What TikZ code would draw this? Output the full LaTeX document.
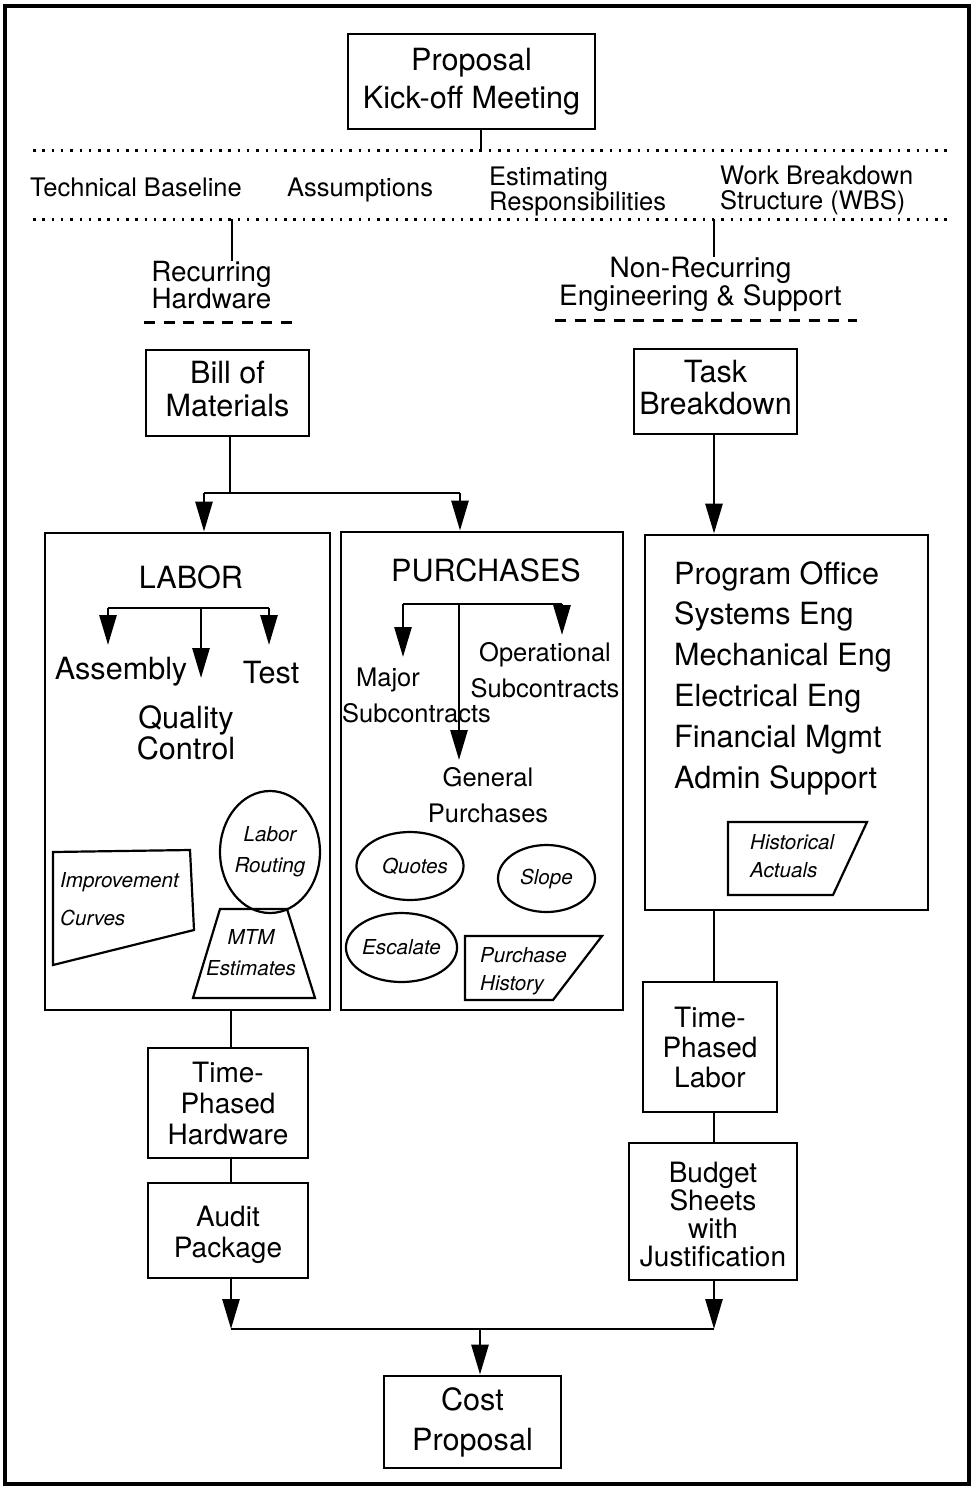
\documentclass[tikz,border=0pt]{standalone}
\usepackage{fontspec}
\setmainfont{TeX Gyre Heros}
\usetikzlibrary{arrows.meta,shapes.geometric}

\newcommand\setfs[2]{\fontsize{#1}{#2}\selectfont}
% extra depth / height used to nudge a box label up or down
\newcommand\lowstrut[1]{\rule[-#1]{0pt}{#1}}
\newcommand\highstrut[1]{\rule{0pt}{#1}}

\tikzset{
  box/.style={draw, line width=2.8pt, inner sep=0pt, align=center},
  lbl/.style={inner sep=0pt, align=center},
  conn/.style={line width=2.8pt},
  arr/.style={conn, -{Triangle[length=30pt,width=17pt]}},
  dotrule/.style={line width=3pt, dash pattern=on 2.5pt off 6.8pt},
  dashrule/.style={line width=3pt, dash pattern=on 11pt off 8.5pt},
  shapeline/.style={line width=2.2pt},
  oval/.style={ellipse, draw, line width=2.2pt, inner sep=0pt, align=center},
  big/.style={font={\setfs{30.6}{38}}},
  small/.style={font={\setfs{25.5}{25}}},
  ital/.style={font={\setfs{20.6}{28}\itshape}}
}

\begin{document}
\begin{tikzpicture}[x=1pt,y=-1pt]
\useasboundingbox (0,0) rectangle (973,1490);
\draw[line width=3.5pt] (5,6) rectangle (969,1484);

% ---- kick-off and proposal ground rules
\node[box, big, minimum width=247pt, minimum height=95pt] (prop) at (471.5,81.5) {Proposal\\Kick-off Meeting};
\draw[dotrule] (33,151) -- (951,151);
\draw[dotrule] (33,219) -- (951,219);
\coordinate (k) at (481,151);
\draw[conn] (k |- prop.south) -- (k);

\node[lbl, small] (tb) at (136,187) {Technical Baseline};
\node[lbl, small] (asn) at (360,189.5) {Assumptions};
\node[lbl, small, align=left, anchor=west] (est) at (489,191) {Estimating\\Responsibilities};
\node[lbl, small, align=left, anchor=west] (wbs) at (720,190.5) {Work Breakdown\\Structure (WBS)};

% ---- the two cost streams
\coordinate (rL) at (232,219);
\coordinate (rR) at (714,219);
\node[lbl, font={\setfs{27.8}{27}}] (rec) at (211.5,285) {Recurring\\Hardware};
\node[lbl, font={\setfs{28}{23.5}}] (nrec) at (700.5,284) {Non-Recurring\\Engineering \& Support};
\draw[conn] (rL) -- (rL |- rec.north);
\draw[conn] (rR) -- (rR |- nrec.north);
\draw[dashrule] (144,322) -- (296,322);
\draw[dashrule] (555,320) -- (857,320);

\node[box, font={\setfs{30.6}{33}}, minimum width=163pt, minimum height=86pt] (bom) at (227.5,393) {Bill of\\Materials\lowstrut{8pt}};
\node[box, font={\setfs{30.6}{32}}, minimum width=163pt, minimum height=85pt] (task) at (715.5,391.5) {Task\\Breakdown\lowstrut{8pt}};

\node[box, minimum width=285pt, minimum height=477pt] (labor) at (187.5,771.5) {};
\node[box, minimum width=282pt, minimum height=478pt] (purch) at (482,771) {};
\node[box, minimum width=283pt, minimum height=375pt] (staff) at (786.5,722.5) {};

\coordinate (bs) at (230,493);
\coordinate (bl) at (204,493);
\coordinate (br) at (460,493);
\draw[conn] (bs |- bom.south) -- (bs);
\draw[conn] (bl) -- (br);
\draw[arr] (bl) -- (bl |- labor.north);
\draw[arr] (br) -- (br |- purch.north);
\coordinate (tx) at (714,0);
\draw[arr] (tx |- task.south) -- (tx |- staff.north);

% ---- labor
\node[lbl, big] (laborT) at (191,577) {LABOR};
\node[lbl, big] (assy) at (121,672) {Assembly};
\node[lbl, big] (test) at (271,673) {Test};
\node[lbl, font={\setfs{30.6}{29}}] (qc) at (186,733) {Quality\\Control};
\coordinate (lbL) at (108,608);
\coordinate (lbM) at (201,608);
\coordinate (lbR) at (269,608);
\coordinate (lbLt) at (108,645);
\coordinate (lbMt) at (201,678);
\coordinate (lbRt) at (269,645);
\draw[conn] (lbL) -- (lbR);
\draw[arr] (lbL) -- (lbLt);
\draw[arr] (lbM) -- (lbMt);
\draw[arr] (lbR) -- (lbRt);

\node[oval, font={\setfs{20.6}{31}\itshape}, minimum width=96pt, minimum height=122pt] (route) at (270,852) {Labor\\Routing};
\draw[shapeline] (220,909) -- (287,909) -- (315,998) -- (193,998) -- cycle;
\node[lbl, font={\setfs{20.6}{31}\itshape}] (mtm) at (251,952.5) {MTM\\Estimates};
\draw[shapeline] (53,852) -- (190,850) -- (194,930) -- (53,965) -- cycle;
\node[lbl, font={\setfs{20.6}{38}\itshape}, align=left, anchor=west] (impr) at (60,899) {Improvement\\Curves};

% ---- purchases
\node[lbl, big] (purT) at (486,570) {PURCHASES};
\coordinate (pL) at (403,604);
\coordinate (pM) at (459,604);
\coordinate (pR) at (562,604);
\coordinate (pLt) at (403,657);
\coordinate (pMt) at (459,760);
\coordinate (pRt) at (562,635);
\node[lbl, small] (maj) at (388,679.5) {Major};
\node[lbl, small] (majsub) at (416.5,713) {Subcontracts};
\node[lbl, font={\setfs{25.5}{36}}] (ops) at (545,670) {Operational\\Subcontracts};
\node[lbl, font={\setfs{25.5}{36}}] (gen) at (488,795) {General\\Purchases};
\draw[conn] (pL) -- (pR);
\draw[arr] (pL) -- (pLt);
\draw[arr] (pM) -- (pMt);
\draw[arr] (pR) -- (pRt);

\node[oval, ital, minimum width=96pt, minimum height=68pt] (quotes) at (410,866) {\hspace*{10pt}Quotes};
\node[oval, ital, minimum width=97pt, minimum height=67pt] (slope) at (546.5,878.5) {Slope};
\node[oval, ital, minimum width=97pt, minimum height=69pt] (escal) at (401.5,947.5) {Escalate};
\draw[shapeline] (465,936) -- (602,936) -- (553,1000) -- (465,1000) -- cycle;
\node[lbl, ital, align=left, anchor=west] (phist) at (480,971) {Purchase\\History};

% ---- engineering and support staff
\node[lbl, font={\setfs{30.6}{40.8}}, align=left, anchor=west] (roles) at (674,678)
  {Program Office\\Systems Eng\\Mechanical Eng\\Electrical Eng\\Financial Mgmt\\Admin Support};
\draw[shapeline] (728,822) -- (867,822) -- (833,895) -- (728,895) -- cycle;
\node[lbl, ital, align=left, anchor=west] (hist) at (750,856) {Historical\\Actuals};

% ---- outputs
\node[box, font={\setfs{28}{31}}, minimum width=160pt, minimum height=110pt] (tph) at (228,1103) {Time-\\Phased\\Hardware};
\node[box, font={\setfs{28}{31}}, minimum width=160pt, minimum height=95pt] (audit) at (228,1230.5) {\highstrut{30pt}Audit\\Package};
\node[box, font={\setfs{28}{30}}, minimum width=134pt, minimum height=130pt] (tpl) at (710,1047) {Time-\\Phased\\Labor};
\node[box, font={\setfs{28}{28}}, minimum width=168pt, minimum height=137pt] (budget) at (713,1211.5) {\highstrut{26pt}Budget\\Sheets\\with\\Justification};
\node[box, font={\setfs{30.6}{40}}, minimum width=177pt, minimum height=92pt] (cost) at (472.5,1422) {Cost\\Proposal};

\coordinate (lx) at (231,0);
\coordinate (rx) at (714,0);
\draw[conn] (lx |- labor.south) -- (lx |- tph.north);
\draw[conn] (lx |- tph.south) -- (lx |- audit.north);
\draw[conn] (rx |- staff.south) -- (rx |- tpl.north);
\draw[conn] (rx |- tpl.south) -- (rx |- budget.north);
\coordinate (jl) at (231,1329);
\coordinate (jr) at (714,1329);
\coordinate (jm) at (480,1329);
\draw[arr] (jl |- audit.south) -- (jl);
\draw[arr] (jr |- budget.south) -- (jr);
\draw[conn] (jl) -- (jr);
\draw[arr] (jm) -- (jm |- cost.north);
\end{tikzpicture}
\end{document}
